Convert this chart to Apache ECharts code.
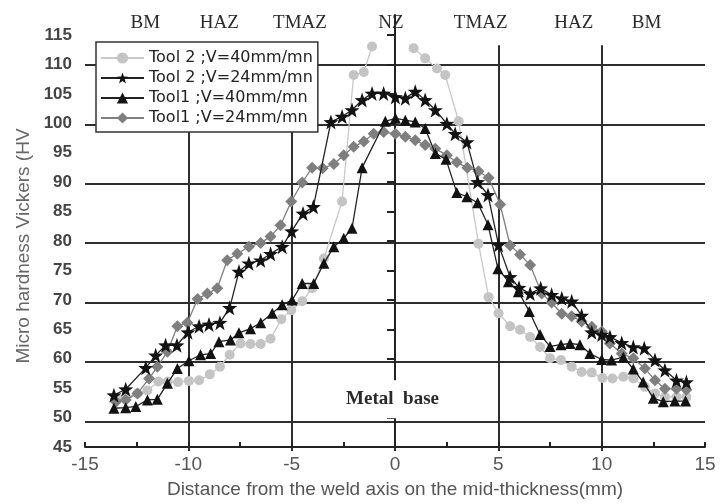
<!DOCTYPE html>
<html><head><meta charset="utf-8">
<script src="https://cdn.jsdelivr.net/npm/echarts@6/dist/echarts.min.js"></script>
<style>html,body{margin:0;padding:0;background:#fff}#c{width:721px;height:504px}</style>
</head><body><div id="c"></div><script>
// ---- data (x = distance in mm, y = HV) ----
const tool2V40 = [[-13.45,53.8],[-13.0,54.0],[-12.46,54.7],[-11.98,55.2],[-11.45,56.7],[-11.0,56.7],[-10.5,56.6],[-9.97,56.8],[-9.48,56.9],[-8.96,57.9],[-8.47,59.2],[-8.0,61.2],[-7.47,63.1],[-6.99,63.0],[-6.5,63.0],[-6.02,63.9],[-5.5,67.2],[-5.02,68.7],[-4.49,70.2],[-4.01,72.4],[-3.44,77.4],[-2.56,87.0],[-2.0,108.3],[-1.51,108.8],[-1.11,113.1],[-0.6,114.2],[0.0,115.0],[0.48,114.2],[0.9,112.8],[1.46,111.1],[2.03,109.4],[2.43,108.3],[3.08,100.5],[4.04,79.9],[4.53,70.9],[5.01,68.2],[5.57,66.0],[6.05,65.4],[6.54,64.2],[7.02,62.5],[7.5,60.6],[8.03,60.3],[8.55,59.2],[9.03,58.3],[9.52,58.2],[10.04,57.3],[10.52,57.2],[11.05,57.5],[11.53,57.2],[12.09,55.8],[12.58,54.7],[13.06,54.1],[13.62,54.1],[14.1,54.1]];
const tool2V24 = [[-13.6,54.4],[-13.03,55.4],[-12.06,59.0],[-11.58,61.1],[-11.1,62.8],[-10.55,62.8],[-10.02,65.0],[-9.48,66.0],[-9.0,66.3],[-8.47,66.6],[-8.0,69.1],[-7.55,75.2],[-7.07,76.6],[-6.5,77.1],[-6.02,78.2],[-5.46,79.4],[-5.0,82.0],[-4.45,85.0],[-3.95,86.1],[-3.1,100.4],[-2.56,101.3],[-2.08,102.4],[-1.59,104.1],[-1.11,105.2],[-0.55,105.2],[0.02,104.6],[0.5,104.4],[0.98,105.5],[1.46,104.1],[1.95,102.4],[2.51,100.1],[2.91,98.4],[3.48,97.0],[4.0,90.3],[4.5,88.1],[5.01,79.7],[5.57,74.3],[6.0,72.5],[6.54,71.5],[7.05,72.4],[7.58,71.3],[8.07,70.7],[8.55,70.2],[9.03,67.8],[9.52,65.0],[10.0,64.6],[10.4,64.2],[10.97,63.2],[11.53,62.5],[12.06,62.3],[12.58,60.3],[13.06,58.6],[13.62,56.9],[14.1,56.6]];
const tool1V40 = [[-13.6,52.2],[-13.03,52.3],[-12.54,52.5],[-11.98,53.6],[-11.5,53.7],[-11.01,56.4],[-10.53,58.9],[-9.97,60.2],[-9.41,61.2],[-8.92,61.4],[-8.52,63.4],[-7.96,63.7],[-7.55,64.9],[-6.99,65.6],[-6.5,66.6],[-5.94,68.2],[-5.46,69.6],[-4.98,70.4],[-4.49,73.2],[-3.93,73.2],[-3.44,76.6],[-2.96,79.4],[-2.48,80.8],[-2.08,82.5],[-1.59,92.7],[-0.47,100.5],[0.02,101.0],[0.5,100.7],[0.98,100.4],[1.46,99.3],[1.95,95.1],[2.47,94.1],[2.99,88.5],[3.48,87.8],[4.0,86.8],[4.5,83.1],[4.98,75.7],[5.49,73.5],[5.97,71.8],[6.5,68.5],[7.02,64.6],[7.5,62.6],[8.03,62.9],[8.47,63.1],[8.95,62.9],[9.43,61.4],[10.0,60.4],[10.48,60.3],[11.05,60.8],[11.53,58.8],[12.01,56.6],[12.5,53.9],[12.98,53.3],[13.54,53.4],[14.06,53.4]];
const tool1V24 = [[-13.5,53.3],[-13.03,53.6],[-12.46,54.7],[-11.9,57.2],[-11.5,59.2],[-11.01,61.7],[-10.53,66.0],[-10.05,66.6],[-9.55,70.6],[-9.08,71.5],[-8.6,72.4],[-8.12,77.1],[-7.63,78.2],[-7.07,79.4],[-6.5,80.0],[-6.02,81.1],[-5.54,83.0],[-5.02,87.0],[-4.49,90.2],[-4.01,92.7],[-3.5,92.6],[-2.96,93.3],[-2.48,94.8],[-2.0,96.2],[-1.51,97.1],[-1.03,98.4],[-0.55,98.7],[0.02,98.4],[0.5,97.9],[0.98,97.3],[1.46,96.5],[1.95,95.9],[2.51,94.8],[2.99,93.6],[3.5,92.7],[4.04,92.1],[4.53,91.0],[5.09,86.5],[5.57,79.6],[6.05,78.1],[6.54,76.3],[7.1,71.5],[7.58,70.0],[8.07,68.1],[8.55,67.7],[9.03,66.8],[9.52,65.9],[10.0,65.1],[10.4,63.1],[10.97,61.4],[11.53,60.6],[12.09,58.9],[12.58,56.9],[13.06,55.5],[13.62,55.5],[14.1,55.3]];

const seriesNames = ['Tool 2 ;V=40mm/mn','Tool 2 ;V=24mm/mn','Tool1 ;V=40mm/mn','Tool1 ;V=24mm/mn'];
const zoneNames = ['BM','HAZ','TMAZ','NZ','TMAZ','HAZ','BM'];
const zoneX = [-12.08,-8.5,-4.6,-0.2,4.15,8.65,12.17];
const zoneY = 117.0;
const baseLabel = 'Metal  base';
const baseLabelPos = [-0.12, 53.1];
const yTickValues = [45,50,55,60,65,70,75,80,85,90,95,100,105,110,115];
const xLabelValues = [-15,-10,-5,0,5,10,15];
const xTickValues = [-15,-12.5,-10,-7.5,-5,-2.5,0,2.5,5,7.5,10,12.5,15];
const xName = 'Distance from the weld axis on the mid-thickness(mm)';
const yName = 'Micro hardness Vickers (HV';

// axis extents
const X_MIN = -15, X_MAX = 15;
const Y_MIN = 45, Y_AXIS_TOP = 118.4, Y_PLOT_TOP = 113.32;
const GRID_Y_MIN = 50, GRID_Y_MAX = 110, GRID_Y_STEP = 10;
const GRID_X_MIN = -10, GRID_X_MAX = 10, GRID_X_STEP = 5;

const STAR = 'path://M0,-10 L2.35,-3.24 L9.51,-3.09 L3.8,1.24 L5.88,8.09 L0,4 L-5.88,8.09 L-3.8,1.24 L-9.51,-3.09 L-2.35,-3.24 Z';

const W = 721, H = 504;
const L = 85, R = 16, TOP_AXIS = 15, BOT = 53;
const plotW = W - L - R, plotBottomPx = H - BOT;
const pxPerY = (plotBottomPx - TOP_AXIS) / (Y_AXIS_TOP - Y_MIN);
const pxPerX = plotW / (X_MAX - X_MIN);
const yPx = v => plotBottomPx - (v - Y_MIN) * pxPerY;
const xPx = v => L + (v - X_MIN) * pxPerX;

const chart = echarts.init(document.getElementById('c'), null, {renderer:'canvas'});

function mk(name, data, color, lineColor, symbol, size, z) {
  return {
    name, type:'line', xAxisIndex:1, yAxisIndex:1, data,
    symbol, symbolSize:size, showSymbol:true, z,
    clip:true,
    itemStyle:{color, borderWidth:0},
    lineStyle:{color:lineColor, width:1.3},
    emphasis:{disabled:true}, animation:false
  };
}
const SPLIT = {show:true, lineStyle:{color:'#2e2e2e', width:2, type:'solid'}};
const hiddenParts = {axisLine:{show:false}, axisTick:{show:false}, axisLabel:{show:false}};

const option = {
  animation:false,
  backgroundColor:'#fff',
  grid:[
    {left:L, right:R, top:TOP_AXIS, bottom:BOT},
    {left:L, right:R, top:yPx(Y_PLOT_TOP), bottom:BOT},
    {left:L, right:R, top:yPx(GRID_Y_MAX), bottom:H - yPx(GRID_Y_MIN)},
    {left:xPx(GRID_X_MIN), right:W - xPx(GRID_X_MAX), top:yPx(Y_PLOT_TOP), bottom:BOT}
  ],
  xAxis:[
    {gridIndex:0, type:'value', min:X_MIN, max:X_MAX,
     axisLine:{show:true, lineStyle:{color:'#222', width:2}},
     axisTick:{show:true, inside:true, length:5, customValues:xTickValues, lineStyle:{color:'#222', width:2}},
     axisLabel:{show:true, customValues:xLabelValues, fontSize:19, color:'#555', margin:8, fontFamily:'Liberation Sans'},
     splitLine:{show:false},
     name:xName, nameLocation:'middle', nameGap:33,
     nameTextStyle:{fontSize:19, color:'#555', fontFamily:'Liberation Sans'}},
    {gridIndex:1, type:'value', min:X_MIN, max:X_MAX, show:false, splitLine:{show:false}},
    Object.assign({gridIndex:2, type:'value', min:X_MIN, max:X_MAX, splitLine:{show:false}}, hiddenParts),
    Object.assign({gridIndex:3, type:'value', min:GRID_X_MIN, max:GRID_X_MAX, interval:GRID_X_STEP, splitLine:SPLIT}, hiddenParts)
  ],
  yAxis:[
    {gridIndex:0, type:'value', min:Y_MIN, max:Y_AXIS_TOP,
     axisLine:{show:true, lineStyle:{color:'#222', width:2}},
     axisTick:{show:true, inside:false, length:8, customValues:yTickValues, lineStyle:{color:'#222', width:2}},
     axisLabel:{show:true, customValues:yTickValues, fontSize:17, fontWeight:'bold', color:'#444', margin:13, fontFamily:'Liberation Sans'},
     splitLine:{show:false}},
    {gridIndex:1, type:'value', min:Y_MIN, max:Y_PLOT_TOP, show:false, splitLine:{show:false}},
    Object.assign({gridIndex:2, type:'value', min:GRID_Y_MIN, max:GRID_Y_MAX, interval:GRID_Y_STEP, splitLine:SPLIT}, hiddenParts),
    Object.assign({gridIndex:3, type:'value', min:0, max:1, splitLine:{show:false}}, hiddenParts)
  ],
  legend:{
    data:seriesNames, orient:'vertical', left:96, top:42,
    padding:[8,5,6,4], itemGap:4, itemWidth:43, itemHeight:14,
    backgroundColor:'#fff', borderColor:'#333', borderWidth:1.5,
    textStyle:{fontSize:16, color:'#222', fontFamily:'DejaVu Sans'},
    selectedMode:false
  },
  series:[
    mk(seriesNames[0], tool2V40, '#c4c4c4', '#c8c8c8', 'circle', 10, 2),
    mk(seriesNames[3], tool1V24, '#7f7f7f', '#7f7f7f', 'diamond', 12, 3),
    mk(seriesNames[2], tool1V40, '#121212', '#222', 'triangle', 11, 4),
    mk(seriesNames[1], tool2V24, '#121212', '#222', STAR, 15, 5)
  ]
};
chart.setOption(option);

const g = [];
zoneNames.forEach((t,i)=>{
  const p = chart.convertToPixel({gridIndex:0}, [zoneX[i], zoneY]);
  g.push({type:'text', x:p[0], y:p[1], z:20,
    style:{text:t, font:'19px "Liberation Serif"', fill:'#2a2a2a', textAlign:'center', textVerticalAlign:'middle'}});
});
const bp = chart.convertToPixel({gridIndex:0}, baseLabelPos);
g.push({type:'text', x:bp[0], y:bp[1], z:20,
  style:{text:baseLabel, font:'bold 19px "Liberation Serif"', fill:'#2a2a2a', textAlign:'center', textVerticalAlign:'middle',
    backgroundColor:'#fff', padding:[15,4,4,4]}});
g.push({type:'text', x:24, y:246, rotation:Math.PI/2, z:20,
  style:{text:yName, font:'19px "Liberation Sans"', fill:'#666', textAlign:'center', textVerticalAlign:'middle'}});
chart.setOption({graphic:g});
</script></body></html>
